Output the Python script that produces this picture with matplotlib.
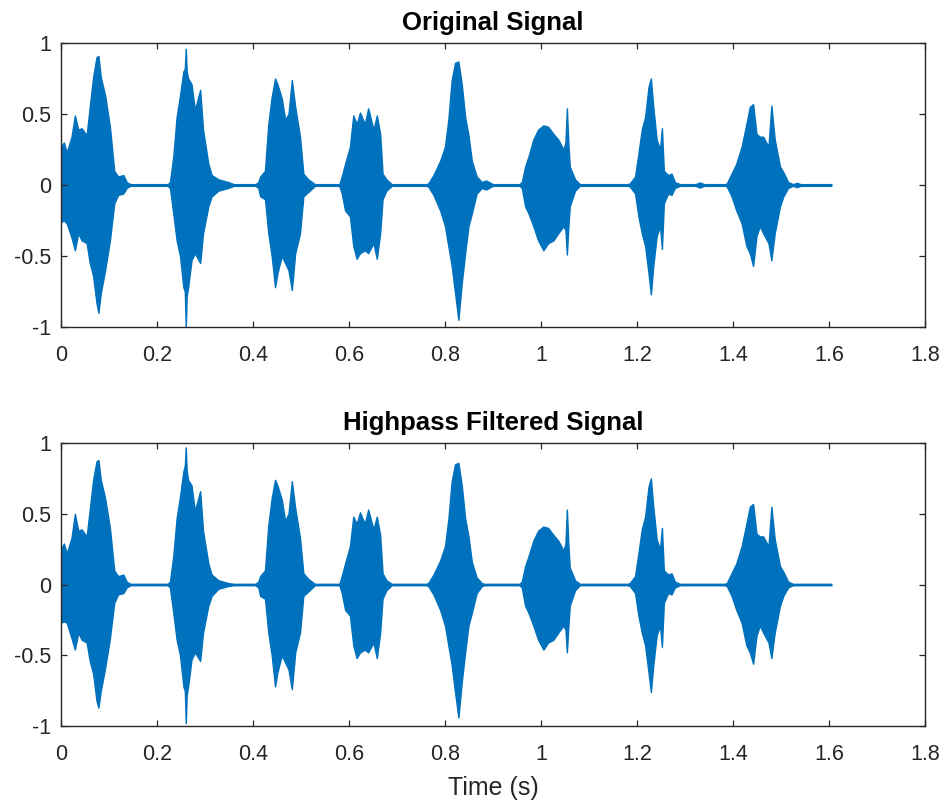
import matplotlib
matplotlib.use("Agg")
import matplotlib.pyplot as plt

plt.rcParams['font.family'] = ['Liberation Sans', 'DejaVu Sans']
plt.rcParams['axes.unicode_minus'] = False

# ---------------- data (envelope of the waveform) ----------------
titles = ["Original Signal", "Highpass Filtered Signal"]
x_label = "Time (s)"
x_ticks = [0, 0.2, 0.4, 0.6, 0.8, 1.0, 1.2, 1.4, 1.6, 1.8]
x_tick_labels = ["0", "0.2", "0.4", "0.6", "0.8", "1", "1.2", "1.4", "1.6", "1.8"]
y_ticks = [-1, -0.5, 0, 0.5, 1]
y_tick_labels = ["-1", "-0.5", "0", "0.5", "1"]

# sample times (s) of the envelope, shared by both panels (one line per word / burst)
t_sig = [0.000, 0.006, 0.012, 0.022, 0.029, 0.036, 0.043, 0.0535, 0.060, 0.067, 0.074, 0.078, 0.083, 0.092, 0.102, 0.111, 0.119, 0.130, 0.137, 0.145,
         0.222, 0.227, 0.234, 0.241, 0.248, 0.255, 0.258, 0.260, 0.262, 0.265, 0.272, 0.279, 0.290, 0.296, 0.307, 0.314, 0.328, 0.349, 0.360,
         0.405, 0.411, 0.415, 0.425, 0.432, 0.439, 0.446, 0.451, 0.460, 0.467, 0.474, 0.481, 0.488, 0.498, 0.505, 0.515, 0.529,
         0.580, 0.585, 0.592, 0.602, 0.609, 0.616, 0.623, 0.633, 0.640, 0.651, 0.658, 0.665, 0.670, 0.678, 0.689,
         0.760, 0.765, 0.776, 0.790, 0.800, 0.807, 0.814, 0.821, 0.828, 0.835, 0.842, 0.849, 0.856, 0.866, 0.877, 0.883, 0.887, 0.892, 0.900,
         0.955, 0.960, 0.967, 0.974, 0.984, 0.994, 1.005, 1.015, 1.026, 1.036, 1.047, 1.051, 1.054, 1.057, 1.060, 1.071, 1.081,
         1.180, 1.185, 1.196, 1.203, 1.210, 1.217, 1.224, 1.229, 1.234, 1.241, 1.248, 1.252, 1.256, 1.265, 1.272, 1.279, 1.290, 1.322, 1.331, 1.340,
         1.382, 1.387, 1.397, 1.407, 1.418, 1.428, 1.435, 1.442, 1.449, 1.456, 1.463, 1.474, 1.480, 1.487, 1.498, 1.505, 1.515, 1.525, 1.533, 1.541, 1.605]

# Original signal: upper / lower envelope
up_orig = [0.27, 0.30, 0.23, 0.34, 0.49, 0.39, 0.40, 0.35, 0.55, 0.76, 0.90, 0.91, 0.76, 0.63, 0.41, 0.10, 0.06, 0.07, 0.02, 0.006,
           0.006, 0.02, 0.20, 0.48, 0.63, 0.80, 0.82, 0.96, 0.80, 0.75, 0.71, 0.53, 0.67, 0.39, 0.15, 0.07, 0.04, 0.02, 0.006,
           0.006, 0.02, 0.06, 0.10, 0.43, 0.62, 0.75, 0.71, 0.61, 0.46, 0.50, 0.74, 0.55, 0.34, 0.08, 0.04, 0.006,
           0.006, 0.06, 0.15, 0.27, 0.49, 0.43, 0.51, 0.43, 0.54, 0.39, 0.49, 0.36, 0.08, 0.04, 0.006,
           0.006, 0.01, 0.07, 0.17, 0.27, 0.46, 0.74, 0.86, 0.87, 0.71, 0.48, 0.35, 0.17, 0.06, 0.02, 0.03, 0.03, 0.02, 0.006,
           0.006, 0.02, 0.13, 0.20, 0.32, 0.39, 0.42, 0.41, 0.36, 0.32, 0.25, 0.30, 0.54, 0.30, 0.13, 0.04, 0.006,
           0.006, 0.01, 0.06, 0.22, 0.39, 0.48, 0.69, 0.75, 0.55, 0.32, 0.25, 0.40, 0.10, 0.07, 0.08, 0.02, 0.006, 0.006, 0.018, 0.006,
           0.006, 0.01, 0.08, 0.15, 0.27, 0.43, 0.55, 0.57, 0.36, 0.34, 0.34, 0.27, 0.56, 0.32, 0.13, 0.09, 0.02, 0.006, 0.015, 0.006, 0.006]
lo_orig = [-0.26, -0.25, -0.27, -0.37, -0.46, -0.34, -0.39, -0.41, -0.55, -0.64, -0.83, -0.90, -0.76, -0.60, -0.39, -0.13, -0.07, -0.06, -0.02, -0.006,
           -0.006, -0.02, -0.20, -0.39, -0.50, -0.72, -0.75, -1.00, -0.78, -0.72, -0.53, -0.48, -0.55, -0.34, -0.15, -0.08, -0.04, -0.02, -0.006,
           -0.006, -0.02, -0.08, -0.10, -0.34, -0.50, -0.72, -0.62, -0.50, -0.55, -0.60, -0.74, -0.48, -0.34, -0.08, -0.05, -0.006,
           -0.006, -0.06, -0.18, -0.22, -0.43, -0.52, -0.48, -0.46, -0.48, -0.41, -0.52, -0.34, -0.10, -0.04, -0.006,
           -0.006, -0.01, -0.07, -0.18, -0.29, -0.43, -0.57, -0.76, -0.95, -0.69, -0.48, -0.29, -0.20, -0.06, -0.02, -0.03, -0.03, -0.02, -0.006,
           -0.006, -0.02, -0.15, -0.20, -0.29, -0.39, -0.46, -0.41, -0.39, -0.34, -0.29, -0.32, -0.49, -0.30, -0.15, -0.04, -0.006,
           -0.006, -0.01, -0.06, -0.22, -0.34, -0.43, -0.62, -0.77, -0.57, -0.36, -0.29, -0.45, -0.13, -0.06, -0.07, -0.02, -0.006, -0.006, -0.018, -0.006,
           -0.006, -0.01, -0.08, -0.18, -0.27, -0.43, -0.48, -0.57, -0.36, -0.29, -0.34, -0.41, -0.53, -0.34, -0.15, -0.08, -0.02, -0.006, -0.015, -0.006, -0.006]

# Highpass filtered signal: upper / lower envelope
up_hp = [0.25, 0.29, 0.22, 0.33, 0.50, 0.38, 0.39, 0.34, 0.53, 0.74, 0.87, 0.88, 0.74, 0.61, 0.40, 0.10, 0.06, 0.07, 0.02, 0.005,
         0.005, 0.02, 0.20, 0.47, 0.62, 0.80, 0.84, 0.97, 0.80, 0.74, 0.70, 0.52, 0.66, 0.38, 0.15, 0.07, 0.03, 0.01, 0.005,
         0.005, 0.02, 0.06, 0.10, 0.42, 0.61, 0.74, 0.70, 0.60, 0.45, 0.50, 0.73, 0.54, 0.33, 0.08, 0.04, 0.005,
         0.005, 0.06, 0.15, 0.27, 0.48, 0.43, 0.51, 0.43, 0.53, 0.39, 0.48, 0.35, 0.08, 0.03, 0.005,
         0.005, 0.01, 0.07, 0.17, 0.27, 0.46, 0.73, 0.85, 0.86, 0.70, 0.47, 0.34, 0.16, 0.05, 0.01, 0.005, 0.005, 0.005, 0.005,
         0.005, 0.02, 0.13, 0.20, 0.31, 0.38, 0.41, 0.40, 0.35, 0.31, 0.24, 0.29, 0.53, 0.29, 0.12, 0.03, 0.005,
         0.005, 0.01, 0.06, 0.22, 0.39, 0.48, 0.69, 0.75, 0.55, 0.32, 0.25, 0.40, 0.10, 0.07, 0.08, 0.02, 0.005, 0.005, 0.005, 0.005,
         0.005, 0.01, 0.08, 0.15, 0.27, 0.43, 0.55, 0.57, 0.36, 0.34, 0.34, 0.27, 0.55, 0.32, 0.13, 0.09, 0.02, 0.005, 0.005, 0.005, 0.005]
lo_hp = [-0.27, -0.26, -0.27, -0.38, -0.46, -0.34, -0.39, -0.41, -0.54, -0.63, -0.82, -0.87, -0.75, -0.59, -0.38, -0.13, -0.07, -0.06, -0.02, -0.005,
         -0.005, -0.02, -0.20, -0.39, -0.50, -0.72, -0.75, -0.98, -0.78, -0.72, -0.53, -0.48, -0.54, -0.34, -0.15, -0.08, -0.03, -0.01, -0.005,
         -0.005, -0.02, -0.08, -0.10, -0.34, -0.50, -0.72, -0.62, -0.50, -0.55, -0.60, -0.74, -0.48, -0.34, -0.08, -0.05, -0.005,
         -0.005, -0.06, -0.18, -0.22, -0.43, -0.52, -0.48, -0.46, -0.48, -0.41, -0.52, -0.34, -0.10, -0.04, -0.005,
         -0.005, -0.01, -0.07, -0.18, -0.29, -0.43, -0.57, -0.76, -0.94, -0.69, -0.48, -0.29, -0.20, -0.06, -0.01, -0.005, -0.005, -0.005, -0.005,
         -0.005, -0.02, -0.15, -0.20, -0.29, -0.39, -0.46, -0.41, -0.39, -0.34, -0.29, -0.32, -0.48, -0.30, -0.15, -0.04, -0.005,
         -0.005, -0.01, -0.06, -0.22, -0.34, -0.43, -0.62, -0.76, -0.57, -0.36, -0.29, -0.44, -0.13, -0.06, -0.07, -0.02, -0.005, -0.005, -0.005, -0.005,
         -0.005, -0.01, -0.08, -0.18, -0.27, -0.43, -0.48, -0.56, -0.36, -0.29, -0.34, -0.41, -0.52, -0.34, -0.15, -0.08, -0.02, -0.005, -0.005, -0.005, -0.005]

series = [(up_orig, lo_orig), (up_hp, lo_hp)]

# ---------------- figure ----------------
line_color = "#0072BD"
axis_color = "#262626"

fig = plt.figure(figsize=(9.48, 8.01), dpi=100)
positions = [[0.0643, 0.5918, 0.9114, 0.3545], [0.0643, 0.0936, 0.9114, 0.3533]]

for i, (pos, (up, lo)) in enumerate(zip(positions, series)):
    ax = fig.add_axes(pos)
    ax.fill_between(t_sig, lo, up, facecolor=line_color, edgecolor=line_color, linewidth=1.0)
    ax.set_xlim(0, 1.8)
    ax.set_ylim(-1, 1)
    ax.set_xticks(x_ticks)
    ax.set_xticklabels(x_tick_labels)
    ax.set_yticks(y_ticks)
    ax.set_yticklabels(y_tick_labels)
    ax.tick_params(direction='in', length=4.5, width=0.9, colors=axis_color,
                   labelsize=15.5, top=True, right=True)
    ax.tick_params(axis='x', pad=13)
    ax.tick_params(axis='y', pad=7)
    for sp in ax.spines.values():
        sp.set_color(axis_color)
        sp.set_linewidth(1.0)
    ax.set_title(titles[i], fontsize=18.5, fontweight='bold', color='black', pad=9.5)
    if i == 1:
        ax.set_xlabel(x_label, fontsize=18, color=axis_color, labelpad=8)

fig.savefig("out.png", dpi=100)
